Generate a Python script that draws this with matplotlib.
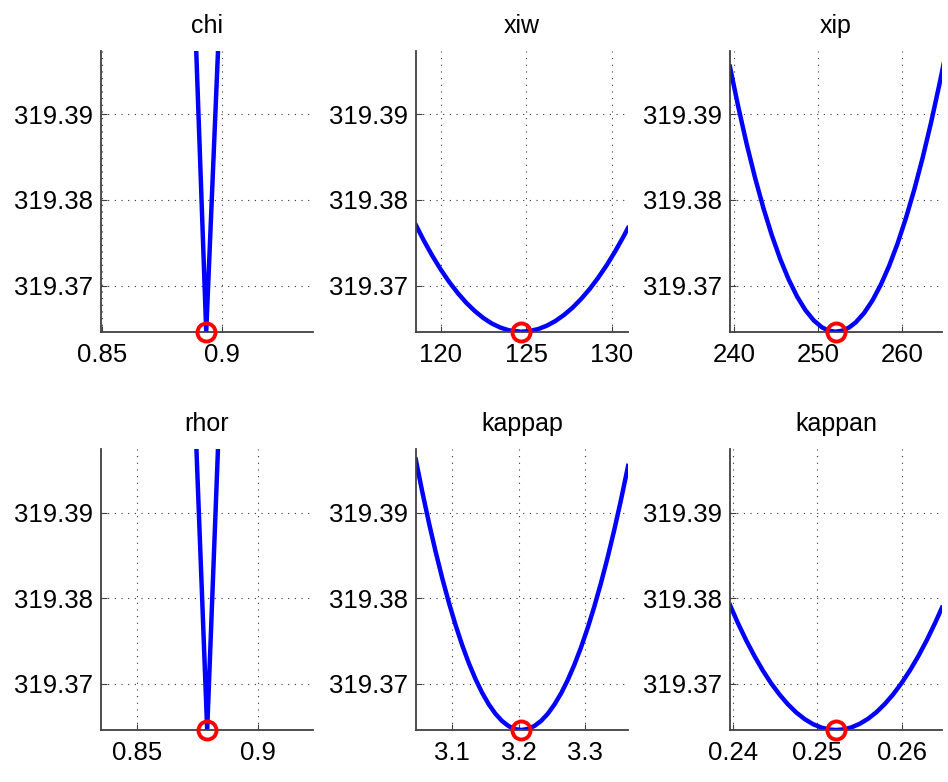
import matplotlib
matplotlib.use("Agg")
import matplotlib.pyplot as plt

plt.rcParams["font.family"] = ["Liberation Sans", "DejaVu Sans"]

titles = ["chi", "xiw", "xip", "rhor", "kappap", "kappan"]

# profile values
chi_x = [0.8890, 0.8935, 0.8988]
chi_y = [319.4000, 319.3646, 319.4000]

xiw_x = [118.56, 119, 119.5, 120, 120.5, 121, 121.5, 122, 122.5, 123, 123.5,
         124, 124.7, 125.2, 125.7, 126.2, 126.7, 127.2, 127.7, 128.2, 128.7,
         129.2, 129.7, 130.2, 130.7, 130.95]
xiw_y = [319.37704, 319.37532, 319.37352, 319.37189, 319.37042, 319.36912,
         319.36798, 319.36701, 319.36620, 319.36555, 319.36508, 319.36476,
         319.36460, 319.36468, 319.36491, 319.36530, 319.36584, 319.36654,
         319.36739, 319.36840, 319.36956, 319.37088, 319.37235, 319.37398,
         319.37576, 319.37671]

xip_x = [239.5, 240.5, 241.5, 242.5, 243.5, 244.5, 245.5, 246.5, 247.5, 248.5,
         249.5, 250.5, 251.3, 252.1, 252.9, 253.7, 254.5, 255.5, 256.5, 257.5,
         258.5, 259.5, 260.5, 261.5, 262.5, 263.5, 264.5, 265]
xip_y = [319.39556, 319.39084, 319.38651, 319.38257, 319.37902, 319.37586,
         319.37309, 319.37072, 319.36873, 319.36713, 319.36592, 319.36510,
         319.36472, 319.36460, 319.36472, 319.36508, 319.36568, 319.36677,
         319.36824, 319.37008, 319.37230, 319.37489, 319.37787, 319.38121,
         319.38493, 319.38903, 319.39351, 319.39589]

rhor_x = [0.8741, 0.8789, 0.8837]
rhor_y = [319.4000, 319.3646, 319.4000]

kappap_x = [3.045, 3.055, 3.065, 3.075, 3.085, 3.095, 3.105, 3.115, 3.125,
            3.135, 3.145, 3.155, 3.165, 3.175, 3.185, 3.195, 3.204, 3.214,
            3.224, 3.234, 3.244, 3.254, 3.264, 3.274, 3.284, 3.294, 3.304,
            3.314, 3.324, 3.334, 3.344, 3.354, 3.365]
kappap_y = [319.39620, 319.39235, 319.38875, 319.38540, 319.38230, 319.37945,
            319.37685, 319.37450, 319.37240, 319.37055, 319.36895, 319.36760,
            319.36650, 319.36565, 319.36505, 319.36470, 319.36460, 319.36472,
            319.36508, 319.36567, 319.36650, 319.36758, 319.36888, 319.37043,
            319.37222, 319.37424, 319.37650, 319.37900, 319.38174, 319.38471,
            319.38792, 319.39138, 319.39545]

kappan_x = [0.2396, 0.2405, 0.2415, 0.2425, 0.2435, 0.2445, 0.2455, 0.2465,
            0.2475, 0.2485, 0.2495, 0.2505, 0.2515, 0.2522, 0.2530, 0.2540,
            0.2550, 0.2560, 0.2570, 0.2580, 0.2590, 0.2600, 0.2610, 0.2620,
            0.2630, 0.2640, 0.2648]
kappan_y = [319.37921, 319.37719, 319.37513, 319.37326, 319.37156, 319.37005,
            319.36873, 319.36759, 319.36663, 319.36586, 319.36527, 319.36487,
            319.36465, 319.36460, 319.36466, 319.36489, 319.36531, 319.36590,
            319.36667, 319.36763, 319.36876, 319.37008, 319.37157, 319.37324,
            319.37510, 319.37713, 319.37889]

# minimum marked by the red circle
opt_x = [0.8935, 124.7, 252.1, 0.8789, 3.204, 0.2522]
opt_y = [319.3646] * 6

xlims = [(0.8496, 0.938), (118.56, 130.95), (239.5, 264.8),
         (0.835, 0.9226), (3.0453, 3.3648), (0.2396, 0.2648)]
xticks = [[0.85, 0.9], [120, 125, 130], [240, 250, 260],
          [0.85, 0.9], [3.1, 3.2, 3.3], [0.24, 0.25, 0.26]]
xticklabels = [["0.85", "0.9"], ["120", "125", "130"], ["240", "250", "260"],
               ["0.85", "0.9"], ["3.1", "3.2", "3.3"], ["0.24", "0.25", "0.26"]]
ylim = (319.3646, 319.3974)
yticks = [319.37, 319.38, 319.39]

curves = [(chi_x, chi_y), (xiw_x, xiw_y), (xip_x, xip_y),
          (rhor_x, rhor_y), (kappap_x, kappap_y), (kappan_x, kappan_y)]

fig = plt.figure(figsize=(9.48, 7.82), dpi=100)
lefts = [0.1065, 0.4388, 0.770]
bottoms = [0.5758, 0.0665]
w, h = 0.2236, 0.359

for i, (cx, cy) in enumerate(curves):
    ax = fig.add_axes([lefts[i % 3], bottoms[i // 3], w, h])
    ax.plot(cx, cy, color="#0000ff", lw=3.2, solid_joinstyle="round")
    ax.plot(opt_x[i], opt_y[i], "o", ms=13, mfc="none", mec="#ff0000",
            mew=2.8, clip_on=False, zorder=5)
    ax.set_xlim(*xlims[i])
    ax.set_ylim(*ylim)
    ax.set_xticks(xticks[i])
    ax.set_xticklabels(xticklabels[i])
    ax.set_yticks(yticks)
    ax.set_yticklabels(["%.2f" % v for v in yticks])
    ax.set_title(titles[i], fontsize=18, pad=13)
    ax.grid(True, color="0.2", linestyle=(0, (1, 5)), linewidth=0.8)
    for s in ["top", "right"]:
        ax.spines[s].set_visible(False)
    for s in ["left", "bottom"]:
        ax.spines[s].set_color("0.25")
        ax.spines[s].set_linewidth(1.3)
    ax.tick_params(axis="x", direction="in", length=4, labelsize=18.5, pad=8,
                   color="0.25")
    ax.tick_params(axis="y", direction="in", length=4, labelsize=18.5, pad=6,
                   color="0.25")

fig.savefig("out.png", dpi=100)
